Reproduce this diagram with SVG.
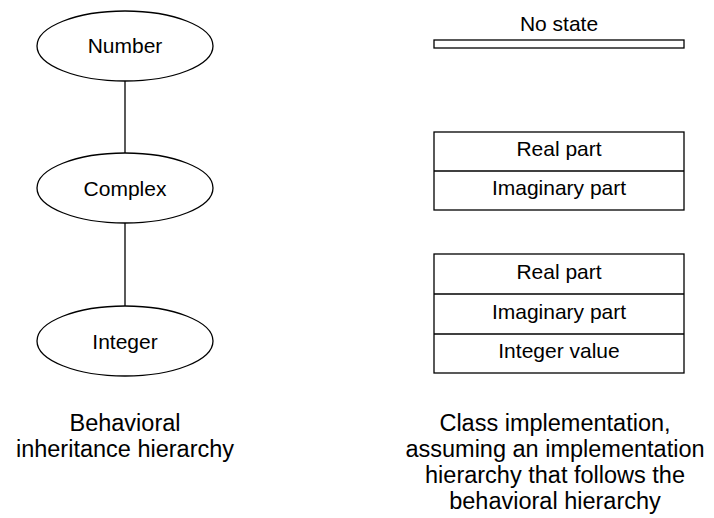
<svg xmlns="http://www.w3.org/2000/svg" width="714" height="518" viewBox="0 0 714 518">
  <style>
    .node { fill: #ffffff; stroke: #000000; stroke-width: 1.3; }
    .edge { stroke: #000000; stroke-width: 1.3; fill: none; }
    .lbl { font-family: "Liberation Sans", Arial, sans-serif; font-size: 21px; fill: #000000; text-anchor: middle; }
    .cap { font-family: "Liberation Sans", Arial, sans-serif; font-size: 23.5px; fill: #000000; text-anchor: middle; }
  </style>

  <!-- connectors of the behavioral hierarchy -->
  <g id="connectors">
    <line class="edge" x1="125" y1="81" x2="125" y2="153"/>
    <line class="edge" x1="125" y1="223" x2="125" y2="306"/>
  </g>

  <!-- behavioral inheritance hierarchy -->
  <g id="number">
    <ellipse class="node" cx="125" cy="46" rx="88" ry="35"/>
    <text class="lbl" x="125" y="53">Number</text>
  </g>
  <g id="complex">
    <ellipse class="node" cx="125" cy="188" rx="88" ry="35"/>
    <text class="lbl" x="125" y="196">Complex</text>
  </g>
  <g id="integer">
    <ellipse class="node" cx="125" cy="341" rx="88" ry="35"/>
    <text class="lbl" x="125" y="349">Integer</text>
  </g>

  <!-- class implementation layouts -->
  <g id="number-impl">
    <text class="lbl" x="559" y="31">No state</text>
    <rect class="node" x="434" y="40" width="250" height="8"/>
  </g>
  <g id="complex-impl">
    <rect class="node" x="434" y="132" width="250" height="78"/>
    <line class="edge" x1="434" y1="171" x2="684" y2="171"/>
    <text class="lbl" x="559" y="156">Real part</text>
    <text class="lbl" x="559" y="195">Imaginary part</text>
  </g>
  <g id="integer-impl">
    <rect class="node" x="434" y="254" width="250" height="119"/>
    <line class="edge" x1="434" y1="294" x2="684" y2="294"/>
    <line class="edge" x1="434" y1="334" x2="684" y2="334"/>
    <text class="lbl" x="559" y="279">Real part</text>
    <text class="lbl" x="559" y="319">Imaginary part</text>
    <text class="lbl" x="559" y="358">Integer value</text>
  </g>

  <!-- captions -->
  <g id="captions">
    <text class="cap" x="125" y="431">Behavioral</text>
    <text class="cap" x="125" y="457">inheritance hierarchy</text>
    <text class="cap" x="555" y="431">Class implementation,</text>
    <text class="cap" x="555" y="457">assuming an implementation</text>
    <text class="cap" x="555" y="483">hierarchy that follows the</text>
    <text class="cap" x="555" y="509">behavioral hierarchy</text>
  </g>
</svg>
